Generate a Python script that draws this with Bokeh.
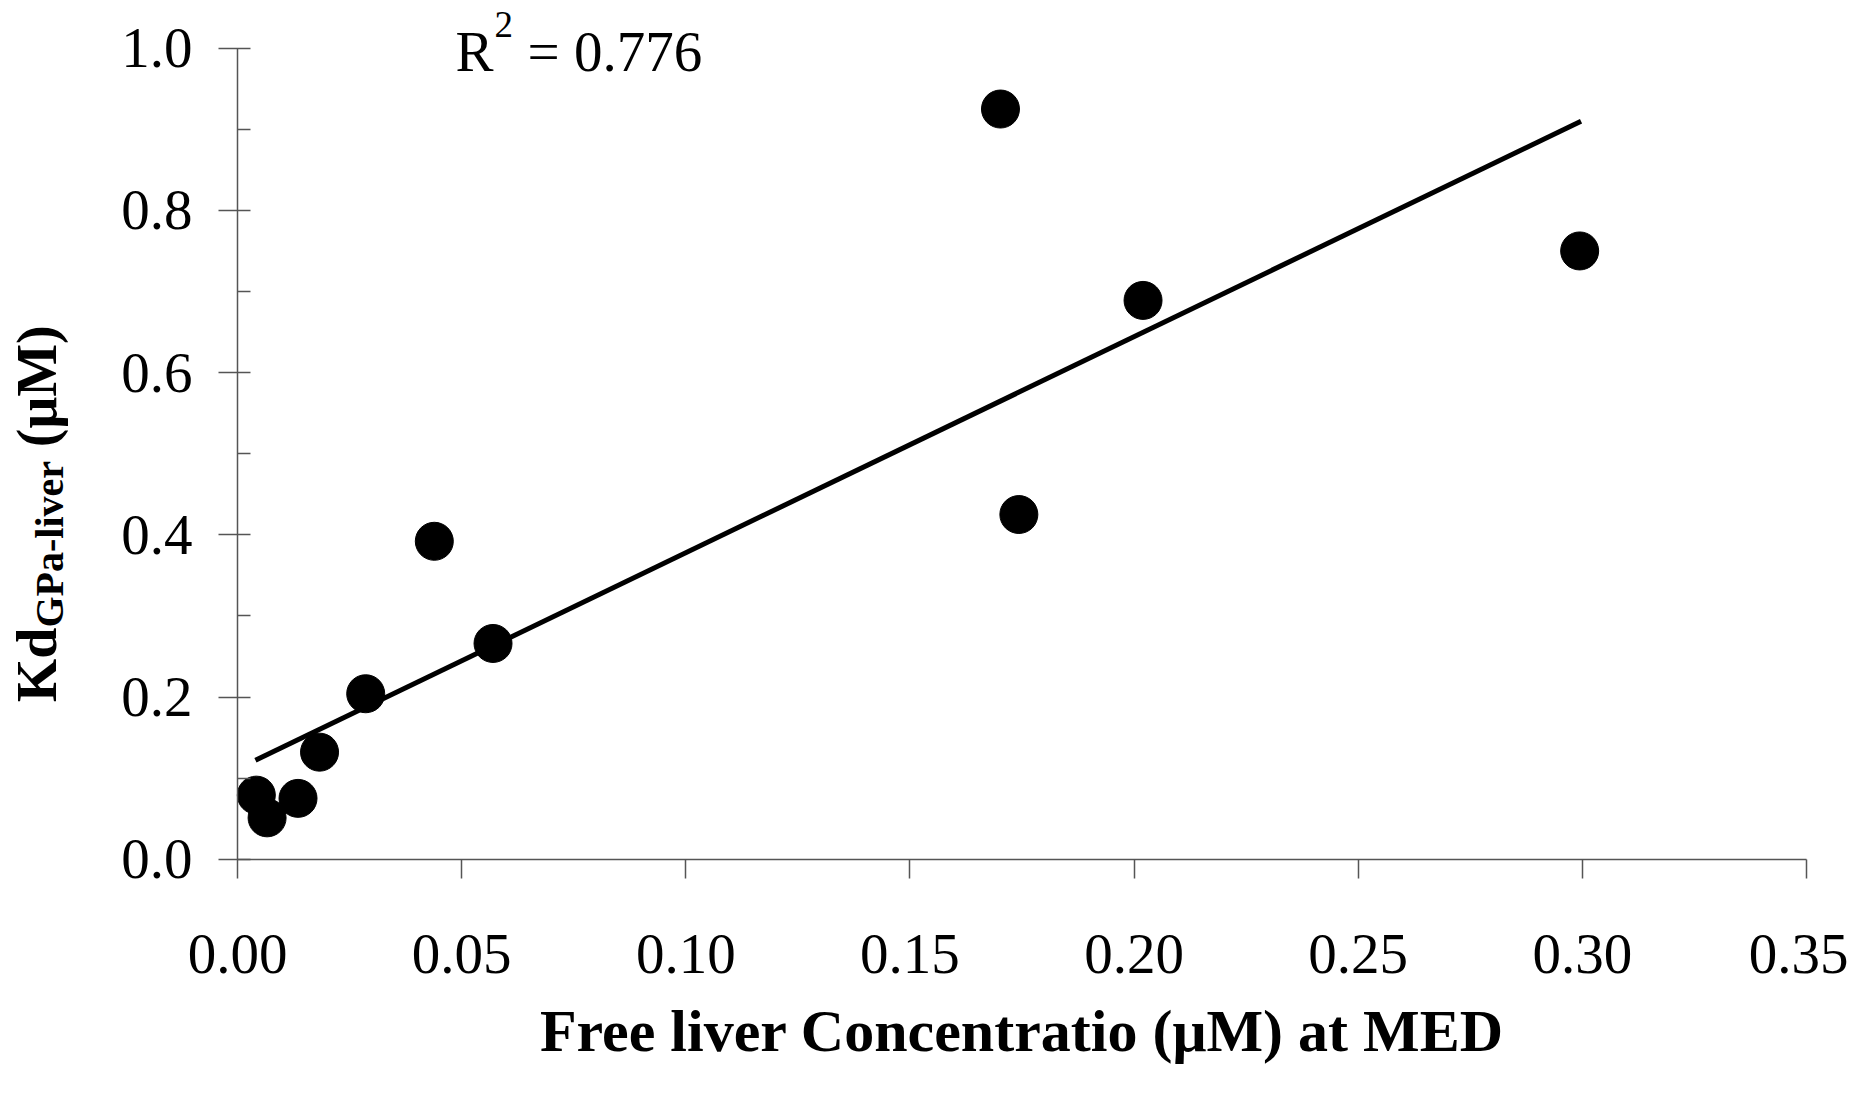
import numpy as np
from bokeh.plotting import figure
from bokeh.models import Range1d, FixedTicker, Label, PrintfTickFormatter
from bokeh.embed import file_html
from bokeh.resources import INLINE

# ---- data ----
free_liver_conc = [0.0042, 0.0066, 0.0135, 0.0183, 0.0286, 0.0439, 0.0570, 0.1702, 0.1743, 0.2020, 0.2994]
kd_gpa_liver = [0.079, 0.051, 0.075, 0.132, 0.204, 0.392, 0.266, 0.925, 0.425, 0.689, 0.750]
trend_x = [0.004, 0.2997]
trend_y = [0.122, 0.910]
r_squared_text = "= 0.776"
x_ticks = [0.00, 0.05, 0.10, 0.15, 0.20, 0.25, 0.30, 0.35]
y_ticks = [0.0, 0.2, 0.4, 0.6, 0.8, 1.0]
y_minor_ticks = [0.1, 0.3, 0.5, 0.7, 0.9]
x_label = "Free liver Concentratio (\u03bcM) at MED"
y_label_main = "Kd"
y_label_sub = "GPa-liver"
y_label_unit = "(\u03bcM)"

FONT = "Liberation Serif"
AXIS_COLOR = "#555555"

# canvas geometry (pixels): where the axes sit inside the canvas
W, H = 1848, 1078
AX_LEFT, AX_RIGHT = 237.0, 1806.0     # x = 0 ... 0.35
AX_BOTTOM, AX_TOP = 858.7, 47.7       # y = 0 ... 1.0
X0, X1 = x_ticks[0], x_ticks[-1]
Y0, Y1 = y_ticks[0], y_ticks[-1]
sx = (X1 - X0) / (AX_RIGHT - AX_LEFT)
sy = (Y1 - Y0) / (AX_BOTTOM - AX_TOP)
x_range = Range1d(X0 - AX_LEFT * sx, X0 + (W - AX_LEFT) * sx)
y_range = Range1d(Y0 - (H - AX_BOTTOM) * sy, Y0 + AX_BOTTOM * sy)

p = figure(width=W, height=H, x_range=x_range, y_range=y_range,
           output_backend="svg", toolbar_location=None,
           min_border_left=0, min_border_right=0,
           min_border_top=0, min_border_bottom=0)
p.grid.visible = False
p.outline_line_color = None
p.background_fill_color = "white"
p.border_fill_color = "white"

# x axis (drawn at y = 0, spanning 0 ... 0.35)
xa = p.xaxis[0]
xa.fixed_location = Y0
xa.bounds = (X0, X1)
xa.ticker = FixedTicker(ticks=x_ticks)
xa.formatter = PrintfTickFormatter(format="%.2f")
xa.axis_line_color = AXIS_COLOR
xa.axis_line_width = 1.5
xa.major_tick_line_color = AXIS_COLOR
xa.major_tick_line_width = 1.5
xa.major_tick_in = 0
xa.major_tick_out = 19
xa.minor_tick_line_color = None
xa.major_label_text_font = FONT
xa.major_label_text_font_size = "57px"
xa.major_label_text_color = "black"
xa.major_label_standoff = 57

# y axis (drawn at x = 0, spanning 0 ... 1.0)
ya = p.yaxis[0]
ya.fixed_location = X0
ya.bounds = (Y0, Y1)
ya.ticker = FixedTicker(ticks=y_ticks, minor_ticks=y_minor_ticks)
ya.formatter = PrintfTickFormatter(format="%.1f")
ya.axis_line_color = AXIS_COLOR
ya.axis_line_width = 1.5
ya.major_tick_line_color = AXIS_COLOR
ya.major_tick_line_width = 1.5
ya.major_tick_in = 13
ya.major_tick_out = 19
ya.minor_tick_line_color = AXIS_COLOR
ya.minor_tick_line_width = 1.5
ya.minor_tick_in = 13
ya.minor_tick_out = 0
ya.major_label_text_font = FONT
ya.major_label_text_font_size = "57px"
ya.major_label_text_color = "black"
ya.major_label_standoff = 26

# trend line and points
p.line(trend_x, trend_y, line_width=5, color="black")
p.scatter(free_liver_conc, kd_gpa_liver, size=38, color="black", line_color="black")

BASELINE_FIX = 0.38  # empirical offset of the rendered baseline, in em


def lab(text, px, py, size, bold=False, angle=0.0, align="left"):
    """Place text with its baseline start at canvas pixel (px, py), from the top-left."""
    if angle:
        px -= BASELINE_FIX * size
    else:
        py -= BASELINE_FIX * size
    p.add_layout(Label(x=px, y=H - py, x_units="screen", y_units="screen",
                       text=text, text_font=FONT, text_font_size=f"{size}px",
                       text_font_style="bold" if bold else "normal",
                       angle=angle, text_align=align, text_baseline="alphabetic",
                       text_color="black"))


# R^2 annotation
lab("R", 455, 72.7, 57)
lab("2", 494, 38, 37)
lab(r_squared_text, 527, 72.7, 57)

# y-axis label (rotated, with subscript)
lab(y_label_main, 58, 701.7, 56, bold=True, angle=np.pi / 2)
lab(y_label_sub, 64, 627, 40, bold=True, angle=np.pi / 2)
lab(y_label_unit, 58, 446.7, 56, bold=True, angle=np.pi / 2)

# x-axis label
lab(x_label, (AX_LEFT + AX_RIGHT) / 2, 1053, 60, bold=True, align="center")

open("out.html", "w").write(file_html(p, INLINE))
